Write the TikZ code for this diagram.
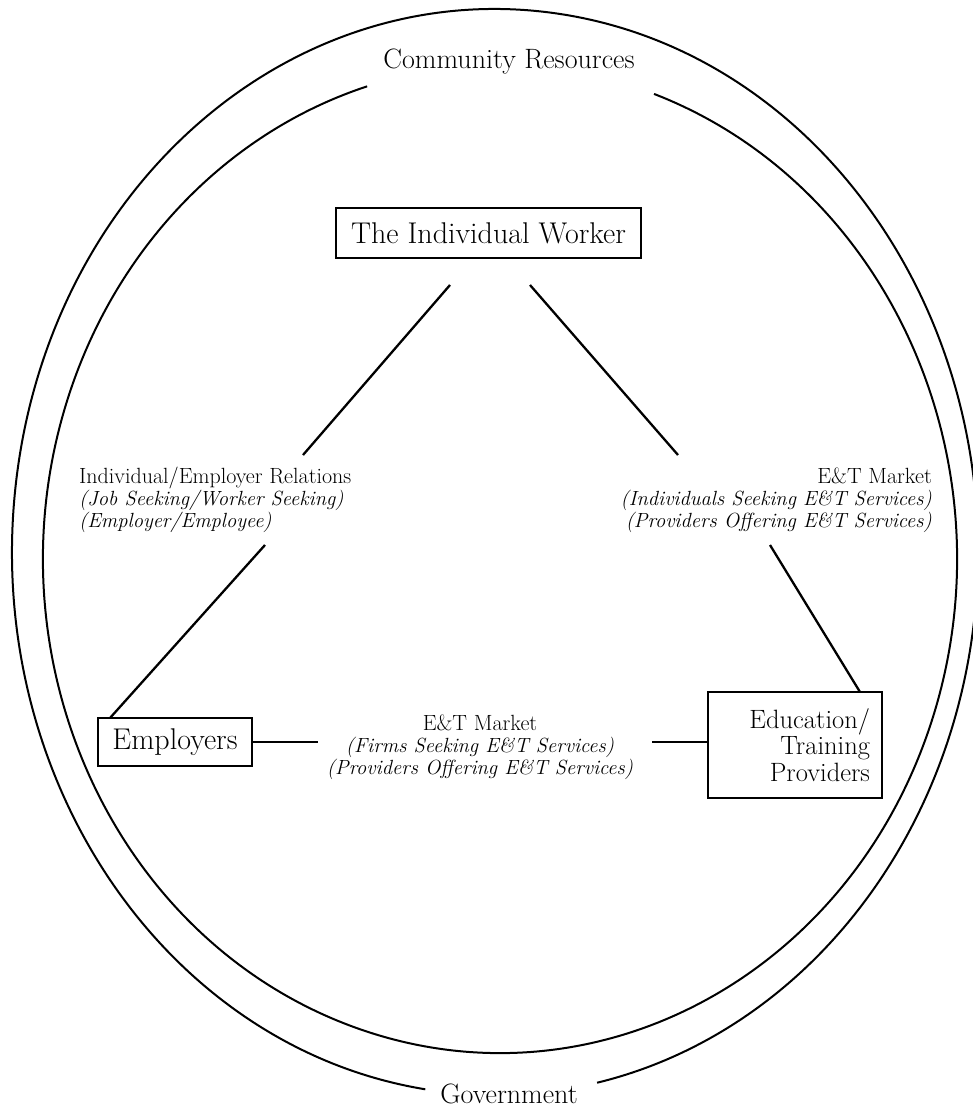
\documentclass[tikz,border=0pt]{standalone}
\usetikzlibrary{calc}
\begin{document}
\begin{tikzpicture}[x=1pt,y=-1pt,
  ring/.style={line width=2pt},
  boxnode/.style={draw,line width=2pt,inner sep=0pt},
  link/.style={line width=2.3pt},
  edgelabel/.style={font=\fontsize{22}{22}\selectfont,inner sep=0pt},
  title/.style={font=\fontsize{28}{30}\selectfont,inner sep=0pt}]
\newcommand{\itl}[1]{{\fontsize{20.5}{22}\selectfont\itshape #1}}
\useasboundingbox (0,0) rectangle (972,1110);
% rings
\draw[ring] (495,552) ++(98.3:483 and 543) arc[start angle=98.3,end angle=437.8,x radius=483,y radius=543];
\draw[ring] (500,559) ++(289.7:457 and 494) arc[start angle=289.7,end angle=613.1,x radius=457,y radius=494];
\node[title] (community) at (509,62) {Community Resources};
\node[title] (government) at (509,1094) {Government};
% boxes
\node[boxnode,minimum width=305pt,minimum height=50pt,font=\fontsize{30}{32}\selectfont] (worker) at (488.5,233) {The Individual Worker};
\node[boxnode,minimum width=154pt,minimum height=48pt,font=\fontsize{30}{32}\selectfont] (employers) at (175,742) {Employers};
\node[boxnode,minimum width=174pt,minimum height=106pt,align=right,text width=150pt,font=\fontsize{26.5}{26.5}\selectfont] (providers) at (795,745) {Education/\\Training\\Providers};
% labels
\node[edgelabel,anchor=west,align=left] (ierel) at (79,500) {Individual/Employer Relations\\\itl{(Job Seeking/Worker Seeking)}\\\itl{(Employer/Employee)}};
\node[edgelabel,anchor=east,align=right] (etind) at (932,500) {E\&T Market\\\itl{(Individuals Seeking E\&T Services)}\\\itl{(Providers Offering E\&T Services)}};
\node[edgelabel,align=center] (etfirm) at (480,747) {E\&T Market\\\itl{(Firms Seeking E\&T Services)}\\\itl{(Providers Offering E\&T Services)}};
% connector ends
\coordinate (wl) at (450,285);
\coordinate (ll1) at (303,455);
\coordinate (ll2) at (265,545);
\coordinate (el) at (110,718);
\coordinate (wr) at (530,285);
\coordinate (rl1) at (678,455);
\coordinate (rl2) at (770,545);
\coordinate (pr) at (860,692);
\coordinate (bl1) at (318,742);
\coordinate (bl2) at (652,742);
\draw[link] (wl) -- (ll1);
\draw[link] (ll2) -- (el);
\draw[link] (wr) -- (rl1);
\draw[link] (rl2) -- (pr);
\draw[link] (employers.east) -- (bl1);
\draw[link] (bl2) -- (bl2 -| providers.west);
\end{tikzpicture}
\end{document}
